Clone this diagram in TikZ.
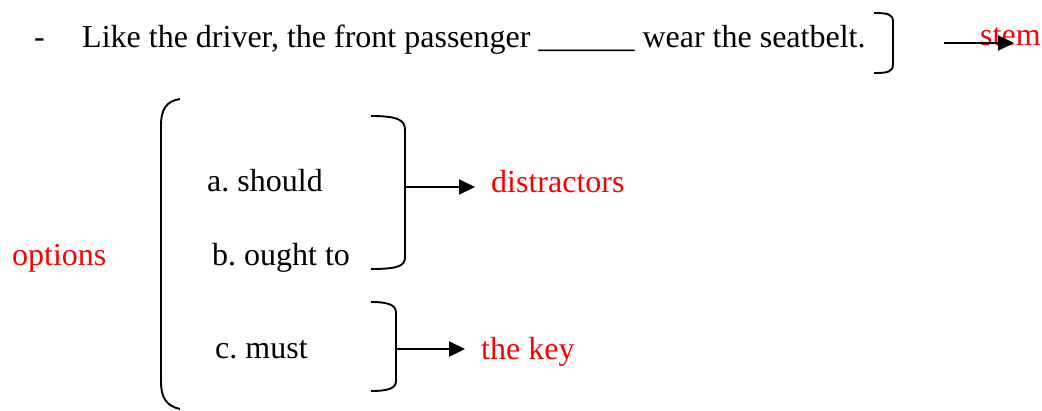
\documentclass[tikz,border=0pt]{standalone}
\usepackage{fontspec}
\setmainfont{Liberation Serif}
\usetikzlibrary{arrows.meta}
\definecolor{lblred}{RGB}{255,0,0}
\frenchspacing
\begin{document}
\begin{tikzpicture}[x=1pt,y=-1pt,
  txt/.style={inner sep=0pt,anchor=base west,font=\fontsize{32}{36}\selectfont},
  lbl/.style={txt,text=lblred},
  brace/.style={line width=1.9pt},
  pointer/.style={line width=2.2pt,-{Triangle[length=16pt,width=15pt]}}]
\useasboundingbox (0,0) rectangle (1042,410);

% question stem
\node[txt] (dash) at (34,47) {-};
\node[txt] (stemtext) at (82,47) {Like the driver, the front passenger \_\_\_\_\_\_ wear the seatbelt.};
\draw[brace] (874,13) .. controls (888,13) and (893,14) .. (893,22) -- (893,64)
  .. controls (893,72) and (888,73) .. (874,73);
\coordinate (stemfrom) at (944,43);
\node[lbl] (stem) at (980,45) {stem};
\draw[pointer] (stemfrom) -- (1014,43);

% options
\node[txt] (optA) at (207,191) {a. should};
\node[txt] (optB) at (212,265) {b. ought to};
\node[txt] (optC) at (215,358) {c. must};
\node[lbl] (options) at (12,265) {options};

% large opening bracket around all options
\draw[brace] (180,99) .. controls (166,101) and (161,110) .. (161,125) -- (161,382)
  .. controls (161,397) and (166,406) .. (180,409);

% bracket for a and b
\draw[brace] (371,116) .. controls (398,116) and (405,120) .. (405,130) -- (405,257)
  .. controls (405,266) and (398,269) .. (371,269);
\coordinate (abmid) at (405,187);
\node[lbl] (distractors) at (491,192) {distractors};
\draw[pointer] (abmid) -- ([xshift=-16pt]distractors.west |- abmid);

% bracket for c
\draw[brace] (371,302) .. controls (389,302) and (396,305) .. (396,313) -- (396,381)
  .. controls (396,388) and (389,391) .. (371,391);
\coordinate (cmid) at (396,349);
\node[lbl] (key) at (481,359) {the key};
\draw[pointer] (cmid) -- ([xshift=-16pt]key.west |- cmid);
\end{tikzpicture}
\end{document}
